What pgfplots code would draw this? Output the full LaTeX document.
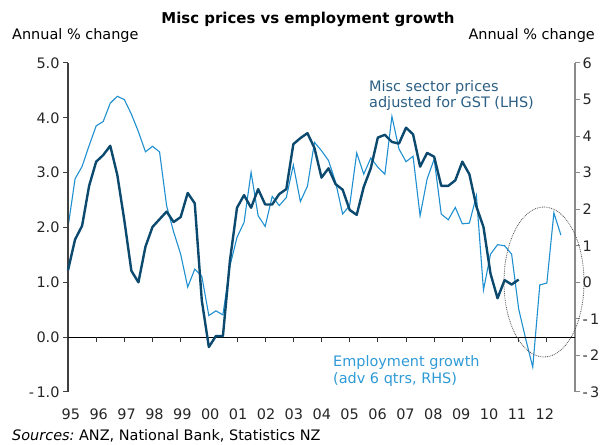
\documentclass[border=0pt]{standalone}
\usepackage{pgfplots}
\pgfplotsset{compat=1.18}
\usepackage{fontspec}
\setmainfont{DejaVu Sans}
\definecolor{darkline}{HTML}{0B4A6E}
\definecolor{lightline}{HTML}{1E8FD0}
\definecolor{misclab}{HTML}{2B5F84}
\definecolor{emplab}{HTML}{2E9AD6}
\definecolor{raxis}{HTML}{8A8A8A}
\newcommand{\tf}{\fontsize{14.5}{17}\selectfont}
\begin{document}
\begin{tikzpicture}[x=1bp,y=1bp]
\useasboundingbox (0,0) rectangle (607,445);
% Right axis: employment growth (RHS)
\begin{axis}[at={(68bp,53bp)}, anchor=south west,
  width=507bp, height=329bp, scale only axis,
  xmin=1995, xmax=2013, ymin=-3, ymax=6,
  axis y line*=right, axis x line*=bottom,
  x axis line style={draw=none},
  y axis line style={line width=2bp, color=raxis},
  ytick={-3,-2,-1,0,1,2,3,4,5,6},
  yticklabels={-\,3,-\,2,-\,1,0,1,2,3,4,5,6},
  ytick style={line width=1bp, color=raxis},
  tick align=outside, major tick length=5bp,
  xtick={1995.10,1996.09,1997.08,1998.07,1999.06,2000.05,2001.04,2002.03,2003.02,2004.01,2005.00,2005.99,2006.98,2007.97,2008.96,2009.95,2010.94,2011.93},
  xticklabels={95,96,97,98,99,00,01,02,03,04,05,06,07,08,09,10,11,12},
  xtick style={draw=none},
  tick label style={font=\tf, text=black!85},
  xticklabel style={yshift=-8bp},
  yticklabel style={xshift=-1bp},
  clip=false]
\addplot[lightline, line width=1.1bp] table[x=t, y=v] {
t v
1995.00 1.50
1995.25 2.83
1995.50 3.17
1995.75 3.74
1996.00 4.28
1996.25 4.40
1996.50 4.90
1996.75 5.09
1997.00 5.00
1997.25 4.60
1997.50 4.12
1997.75 3.57
1998.00 3.72
1998.25 3.57
1998.50 2.10
1998.75 1.38
1999.00 0.77
1999.25 -0.13
1999.50 0.36
1999.75 0.17
2000.00 -0.91
2000.25 -0.78
2000.50 -0.89
2000.75 0.45
2001.00 1.23
2001.25 1.64
2001.50 3.01
2001.75 1.82
2002.00 1.53
2002.25 2.35
2002.50 2.10
2002.75 2.32
2003.00 3.21
2003.25 2.21
2003.50 2.63
2003.75 3.83
2004.00 3.60
2004.25 3.33
2004.50 2.74
2004.75 1.87
2005.00 2.10
2005.25 3.54
2005.50 2.96
2005.75 3.40
2006.00 3.15
2006.25 2.96
2006.50 4.54
2006.75 3.65
2007.00 3.30
2007.25 3.45
2007.50 1.82
2007.75 2.83
2008.00 3.37
2008.25 1.87
2008.50 1.71
2008.75 2.05
2009.00 1.60
2009.25 1.62
2009.50 2.37
2009.75 -0.21
2010.00 0.77
2010.25 1.03
2010.50 1.00
2010.75 0.77
2011.00 -0.73
2011.25 -1.55
2011.50 -2.32
2011.75 -0.07
2012.00 -0.02
2012.25 1.90
2012.50 1.29
};
\end{axis}
% Left axis: misc sector prices (LHS)
\begin{axis}[at={(68bp,53bp)}, anchor=south west,
  width=507bp, height=329bp, scale only axis,
  xmin=1995, xmax=2013, ymin=-1, ymax=5,
  axis x line=none, axis y line*=left,
  y axis line style={line width=1.2bp, color=black!75},
  ytick={-1,0,1,2,3,4,5},
  yticklabels={-\,1.0,0.0,1.0,2.0,3.0,4.0,5.0},
  ytick style={line width=1bp, color=black!75},
  tick align=outside, major tick length=5bp,
  tick label style={font=\tf, text=black!85},
  clip=false]
\draw[black, line width=1.3bp] (axis cs:1995,0) -- (axis cs:2013,0);
\pgfplotsinvokeforeach{1996,1997,1998,1999,2000,2001,2002,2003,2004,2005,2006,2007,2008,2009,2010,2011,2012}{
  \draw[black!80, line width=0.9bp] (axis cs:#1,0) -- (axis cs:#1,-0.09);
}
\addplot[darkline, line width=2.4bp, line join=round] table[x=t, y=v] {
t v
1995.00 1.22
1995.25 1.78
1995.50 2.03
1995.75 2.76
1996.00 3.20
1996.25 3.32
1996.50 3.49
1996.75 2.96
1997.00 2.13
1997.25 1.21
1997.50 1.00
1997.75 1.65
1998.00 2.01
1998.25 2.15
1998.50 2.29
1998.75 2.10
1999.00 2.19
1999.25 2.63
1999.50 2.44
1999.75 0.67
2000.00 -0.18
2000.25 0.02
2000.50 0.02
2000.75 1.40
2001.00 2.36
2001.25 2.59
2001.50 2.36
2001.75 2.70
2002.00 2.42
2002.25 2.42
2002.50 2.61
2002.75 2.70
2003.00 3.52
2003.25 3.63
2003.50 3.72
2003.75 3.45
2004.00 2.91
2004.25 3.08
2004.50 2.79
2004.75 2.69
2005.00 2.32
2005.25 2.23
2005.50 2.74
2005.75 3.08
2006.00 3.64
2006.25 3.69
2006.50 3.56
2006.75 3.53
2007.00 3.82
2007.25 3.70
2007.50 3.11
2007.75 3.36
2008.00 3.29
2008.25 2.76
2008.50 2.76
2008.75 2.86
2009.00 3.20
2009.25 2.97
2009.50 2.38
2009.75 2.01
2010.00 1.16
2010.25 0.71
2010.50 1.04
2010.75 0.96
2011.00 1.05
};
\end{axis}
% Dotted ellipse annotation
\draw[black!70, densely dotted, line width=0.8bp] (544,163) ellipse [x radius=40, y radius=75];
% Texts
\node[font=\fontsize{15}{18}\selectfont\bfseries, anchor=base] at (308,421) {Misc prices vs employment growth};
\node[font=\tf, anchor=base west, inner sep=0pt] at (12,405) {Annual \% change};
\node[font=\tf, anchor=base east, inner sep=0pt] at (595,405) {Annual \% change};
\node[font=\tf, anchor=base west, inner sep=0pt, text=misclab] at (369,353) {Misc sector prices};
\node[font=\tf, anchor=base west, inner sep=0pt, text=misclab] at (369,337) {adjusted for GST (LHS)};
\node[font=\tf, anchor=base west, inner sep=0pt, text=emplab] at (333,78) {Employment growth};
\node[font=\tf, anchor=base west, inner sep=0pt, text=emplab] at (333,61) {(adv 6 qtrs, RHS)};
\node[font=\tf, anchor=base west, inner sep=0pt] at (12,4) {\textit{Sources:}\ ANZ, National Bank, Statistics NZ};
\end{tikzpicture}
\end{document}
